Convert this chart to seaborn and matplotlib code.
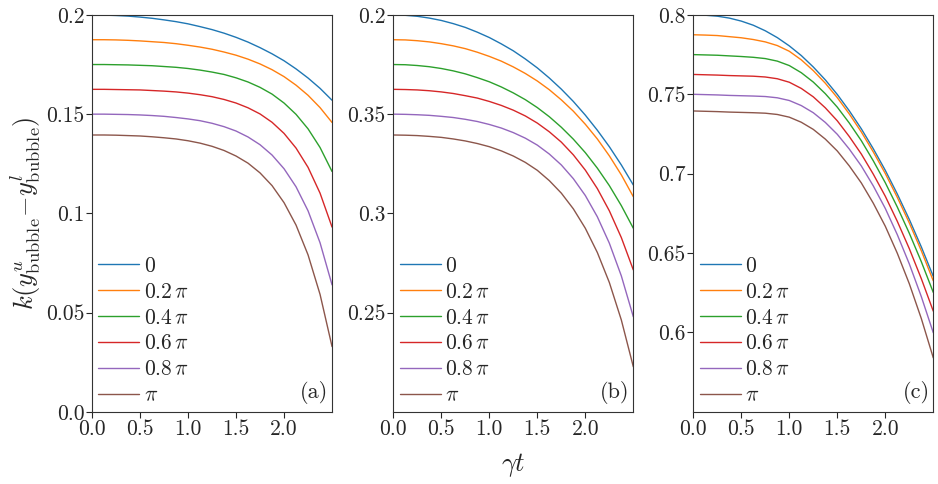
import numpy as np
import pandas as pd
import matplotlib
matplotlib.use('Agg')
import matplotlib.pyplot as plt
import seaborn as sns

# ---- data ----
gamma_t = [0.0, 0.125, 0.25, 0.375, 0.5, 0.625, 0.75, 0.875, 1.0, 1.125, 1.25,
           1.375, 1.5, 1.625, 1.75, 1.875, 2.0, 2.125, 2.25, 2.375, 2.5]
phases = ['0', r'0.2$\,\pi$', r'0.4$\,\pi$', r'0.6$\,\pi$', r'0.8$\,\pi$', r'$\pi$']

# panel (a)
vals_a = [
    [0.2000, 0.1999, 0.1997, 0.1994, 0.1989, 0.1983, 0.1975, 0.1966, 0.1955, 0.1941, 0.1926,
     0.1908, 0.1887, 0.1863, 0.1835, 0.1804, 0.1769, 0.1728, 0.1682, 0.1630, 0.1570],
    [0.1875, 0.1875, 0.1874, 0.1872, 0.1869, 0.1865, 0.1861, 0.1855, 0.1847, 0.1838, 0.1827,
     0.1813, 0.1797, 0.1777, 0.1753, 0.1724, 0.1689, 0.1646, 0.1595, 0.1533, 0.1458],
    [0.1750, 0.1750, 0.1749, 0.1748, 0.1746, 0.1744, 0.1740, 0.1736, 0.1730, 0.1722, 0.1712,
     0.1700, 0.1683, 0.1662, 0.1635, 0.1601, 0.1556, 0.1499, 0.1426, 0.1332, 0.1211],
    [0.1625, 0.1625, 0.1624, 0.1623, 0.1622, 0.1619, 0.1616, 0.1612, 0.1606, 0.1598, 0.1588,
     0.1574, 0.1556, 0.1532, 0.1501, 0.1459, 0.1403, 0.1329, 0.1232, 0.1102, 0.0931],
    [0.1500, 0.1500, 0.1499, 0.1498, 0.1496, 0.1493, 0.1489, 0.1483, 0.1476, 0.1467, 0.1454,
     0.1437, 0.1415, 0.1385, 0.1346, 0.1294, 0.1225, 0.1134, 0.1013, 0.0852, 0.0640],
    [0.1395, 0.1395, 0.1394, 0.1392, 0.1390, 0.1386, 0.1381, 0.1375, 0.1366, 0.1354, 0.1338,
     0.1317, 0.1289, 0.1253, 0.1204, 0.1140, 0.1054, 0.0941, 0.0791, 0.0592, 0.0329],
]
# panel (b)
vals_b = [
    [0.4000, 0.3998, 0.3993, 0.3984, 0.3972, 0.3956, 0.3937, 0.3913, 0.3886, 0.3854, 0.3819,
     0.3778, 0.3733, 0.3682, 0.3626, 0.3564, 0.3495, 0.3419, 0.3336, 0.3244, 0.3143],
    [0.3875, 0.3874, 0.3870, 0.3864, 0.3855, 0.3844, 0.3830, 0.3812, 0.3791, 0.3767, 0.3738,
     0.3705, 0.3667, 0.3623, 0.3572, 0.3515, 0.3449, 0.3375, 0.3290, 0.3194, 0.3084],
    [0.3750, 0.3749, 0.3745, 0.3739, 0.3730, 0.3718, 0.3703, 0.3684, 0.3663, 0.3637, 0.3607,
     0.3573, 0.3533, 0.3487, 0.3434, 0.3374, 0.3306, 0.3228, 0.3140, 0.3039, 0.2925],
    [0.3625, 0.3624, 0.3622, 0.3618, 0.3612, 0.3604, 0.3593, 0.3581, 0.3564, 0.3544, 0.3520,
     0.3491, 0.3455, 0.3411, 0.3359, 0.3295, 0.3218, 0.3125, 0.3013, 0.2878, 0.2715],
    [0.3500, 0.3499, 0.3497, 0.3494, 0.3489, 0.3483, 0.3474, 0.3463, 0.3448, 0.3430, 0.3407,
     0.3379, 0.3344, 0.3299, 0.3244, 0.3175, 0.3090, 0.2983, 0.2850, 0.2685, 0.2479],
    [0.3395, 0.3394, 0.3392, 0.3388, 0.3383, 0.3375, 0.3365, 0.3352, 0.3336, 0.3315, 0.3289,
     0.3257, 0.3217, 0.3165, 0.3102, 0.3023, 0.2925, 0.2803, 0.2652, 0.2463, 0.2227],
]
# panel (c)
vals_c = [
    [0.8000, 0.7998, 0.7992, 0.7980, 0.7961, 0.7935, 0.7900, 0.7857, 0.7805, 0.7744, 0.7672,
     0.7591, 0.7499, 0.7396, 0.7283, 0.7157, 0.7021, 0.6872, 0.6712, 0.6539, 0.6353],
    [0.7875, 0.7873, 0.7870, 0.7863, 0.7856, 0.7845, 0.7830, 0.7807, 0.7771, 0.7717, 0.7649,
     0.7570, 0.7479, 0.7376, 0.7263, 0.7137, 0.7001, 0.6851, 0.6690, 0.6515, 0.6325],
    [0.7750, 0.7748, 0.7746, 0.7742, 0.7738, 0.7733, 0.7725, 0.7709, 0.7681, 0.7636, 0.7577,
     0.7504, 0.7419, 0.7319, 0.7208, 0.7081, 0.6943, 0.6790, 0.6625, 0.6446, 0.6252],
    [0.7625, 0.7623, 0.7621, 0.7618, 0.7616, 0.7614, 0.7609, 0.7598, 0.7576, 0.7537, 0.7484,
     0.7415, 0.7333, 0.7234, 0.7124, 0.6997, 0.6858, 0.6700, 0.6528, 0.6339, 0.6134],
    [0.7500, 0.7498, 0.7496, 0.7493, 0.7491, 0.7489, 0.7486, 0.7478, 0.7461, 0.7429, 0.7384,
     0.7323, 0.7248, 0.7155, 0.7049, 0.6923, 0.6781, 0.6616, 0.6432, 0.6226, 0.5998],
    [0.7395, 0.7393, 0.7391, 0.7388, 0.7386, 0.7384, 0.7381, 0.7373, 0.7356, 0.7324, 0.7279,
     0.7218, 0.7143, 0.7049, 0.6942, 0.6814, 0.6669, 0.6499, 0.6307, 0.6088, 0.5840],
]

ylims = [(0.0, 0.2), (0.2, 0.4), (0.55, 0.8)]
yticks = [[0.0, 0.05, 0.1, 0.15, 0.2], [0.25, 0.3, 0.35, 0.4], [0.6, 0.65, 0.7, 0.75, 0.8]]
yticklabels = [['0.0', '0.05', '0.1', '0.15', '0.2'],
               ['0.25', '0.3', '0.35', '0.2'],
               ['0.6', '0.65', '0.7', '0.75', '0.8']]
xticks = [0.0, 0.5, 1.0, 1.5, 2.0]
panel_tags = ['(a)', '(b)', '(c)']

# ---- style ----
sns.set_style('ticks')
plt.rcParams['font.family'] = ['cmr10', 'DejaVu Serif']
plt.rcParams['mathtext.fontset'] = 'cm'
plt.rcParams['axes.unicode_minus'] = False
plt.rcParams['axes.formatter.use_mathtext'] = True

palette = sns.color_palette('tab10', 6)

fig = plt.figure(figsize=(9.38, 4.84), dpi=100)
lefts = [0.0981, 0.4193, 0.7391]
axes = [fig.add_axes([l, 0.149, 0.2559, 0.8202]) for l in lefts]

for i, (ax, vals) in enumerate(zip(axes, [vals_a, vals_b, vals_c])):
    rows = []
    for ph, series in zip(phases, vals):
        for t, v in zip(gamma_t, series):
            rows.append({'t': t, 'v': v, 'phase': ph})
    df = pd.DataFrame(rows)
    sns.lineplot(data=df, x='t', y='v', hue='phase', hue_order=phases,
                 palette=palette, linewidth=1.0, ax=ax, legend=True)

    ax.set_xlim(0, 2.5)
    ax.set_ylim(*ylims[i])
    ax.set_xticks(xticks)
    ax.set_xticklabels(['0.0', '0.5', '1.0', '1.5', '2.0'])
    ax.set_yticks(yticks[i])
    ax.set_yticklabels(yticklabels[i])
    ax.tick_params(labelsize=15.5, length=4, width=0.8, pad=1.5)
    ax.set_xlabel('')
    ax.set_ylabel('')
    for sp in ax.spines.values():
        sp.set_visible(True)
        sp.set_linewidth(0.8)
        sp.set_color('#333333')

    handles, labels = ax.get_legend_handles_labels()
    ax.legend(handles, labels, loc='lower left', frameon=False, fontsize=15.5,
              handlelength=1.9, handletextpad=0.2, labelspacing=0.3,
              borderaxespad=0.1, borderpad=0.2)
    ax.text(0.985, 0.02, panel_tags[i], transform=ax.transAxes,
            ha='right', va='bottom', fontsize=16)

fig.text(0.027, 0.56, r'$k(y^{u}_{\rm bubble}\!-\!y^{l}_{\rm bubble})$',
         rotation=90, ha='center', va='center', fontsize=19)
fig.text(0.547, 0.04, r'$\gamma t$', ha='center', va='center', fontsize=19)

plt.savefig('out.png', dpi=100)
plt.close()
